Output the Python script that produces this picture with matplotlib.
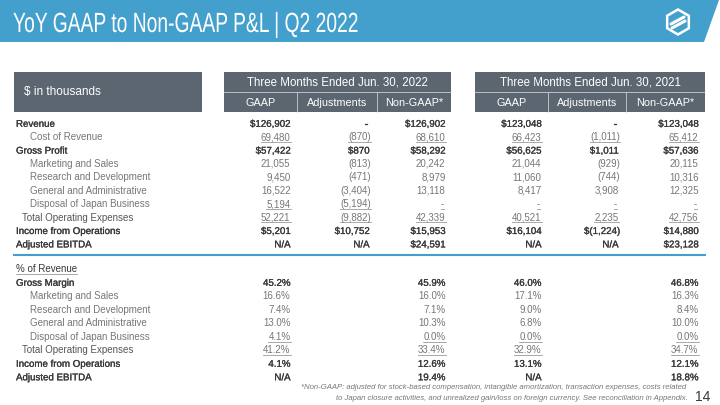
import matplotlib
matplotlib.use("Agg")
import matplotlib.pyplot as plt
from matplotlib import patheffects
from matplotlib.transforms import Affine2D
from matplotlib.patches import Rectangle, Polygon, RegularPolygon

# ---- table data ----
title = "YoY GAAP to Non-GAAP P&L | Q2 2022"
unit_label = "$ in thousands"
period_labels = ["Three Months Ended Jun. 30, 2022", "Three Months Ended Jun. 30, 2021"]
col_labels = ["GAAP", "Adjustments", "Non-GAAP*"]

rows = ["Revenue", "Cost of Revenue", "Gross Profit", "Marketing and Sales",
        "Research and Development", "General and Administrative",
        "Disposal of Japan Business", "Total Operating Expenses",
        "Income from Operations", "Adjusted EBITDA"]
row_indent = [0, 2, 0, 2, 2, 2, 2, 1, 0, 0]
row_bold = [True, False, True, False, False, False, False, False, True, True]
row_underline = [False, True, False, False, False, False, True, True, False, False]

gaap_2022 = ["$126,902", "69,480", "$57,422", "21,055", "9,450", "16,522", "5,194", "52,221", "$5,201", "N/A"]
adj_2022 = ["-", "(870)", "$870", "(813)", "(471)", "(3,404)", "(5,194)", "(9,882)", "$10,752", "N/A"]
non_2022 = ["$126,902", "68,610", "$58,292", "20,242", "8,979", "13,118", "-", "42,339", "$15,953", "$24,591"]
gaap_2021 = ["$123,048", "66,423", "$56,625", "21,044", "11,060", "8,417", "-", "40,521", "$16,104", "N/A"]
adj_2021 = ["-", "(1,011)", "$1,011", "(929)", "(744)", "3,908", "-", "2,235", "$(1,224)", "N/A"]
non_2021 = ["$123,048", "65,412", "$57,636", "20,115", "10,316", "12,325", "-", "42,756", "$14,880", "$23,128"]

pct_title = "% of Revenue"
pct_rows = ["Gross Margin", "Marketing and Sales", "Research and Development",
            "General and Administrative", "Disposal of Japan Business",
            "Total Operating Expenses", "Income from Operations", "Adjusted EBITDA"]
pct_indent = [0, 2, 2, 2, 2, 1, 0, 0]
pct_bold = [True, False, False, False, False, False, True, True]
pct_underline = [False, False, False, False, True, True, False, False]
pct_gaap_2022 = ["45.2%", "16.6%", "7.4%", "13.0%", "4.1%", "41.2%", "4.1%", "N/A"]
pct_non_2022 = ["45.9%", "16.0%", "7.1%", "10.3%", "0.0%", "33.4%", "12.6%", "19.4%"]
pct_gaap_2021 = ["46.0%", "17.1%", "9.0%", "6.8%", "0.0%", "32.9%", "13.1%", "N/A"]
pct_non_2021 = ["46.8%", "16.3%", "8.4%", "10.0%", "0.0%", "34.7%", "12.1%", "18.8%"]

footnote = ["*Non-GAAP: adjusted for stock-based compensation, intangible amortization, transaction expenses, costs related",
            "to Japan closure activities, and unrealized gain/loss on foreign currency. See reconciliation in Appendix."]
page_num = "14"

# ---- styling ----
BLUE = "#43a0cc"
SLATE = "#5b6670"
DARK = "#383838"
GREY = "#777777"
LINE_GREY = "#9a9a9a"
FONT = ["Liberation Sans", "DejaVu Sans"]
FS = 7


class Squeeze(patheffects.AbstractPathEffect):
    # squeezes glyphs horizontally (no narrow font installed)
    def __init__(self, sx=1.0):
        super().__init__()
        self.sx = sx

    def draw_path(self, renderer, gc, tpath, affine, rgbFace=None):
        renderer.draw_path(gc, tpath, Affine2D().scale(self.sx, 1.0) + affine, rgbFace)


fig = plt.figure(figsize=(7.2, 4.05), dpi=100)
ax = fig.add_axes([0, 0, 1, 1])
ax.set_xlim(0, 720)
ax.set_ylim(405, 0)
ax.axis("off")

# title banner
ax.add_patch(Polygon([(0, 0), (719, 0), (704, 42), (0, 42)], closed=True, color=BLUE, lw=0))
title_txt = ax.text(13, 32, title, color="white", fontsize=20, va="baseline", ha="left",
                    family=FONT)

# logo
ax.add_patch(RegularPolygon((678, 22), 6, radius=12.5, orientation=0, fill=False, ec="white", lw=1.8))
ax.plot([671, 684], [24, 17], color="white", lw=2.2, solid_capstyle="round")
ax.plot([672, 685], [28, 21], color="white", lw=2.2, solid_capstyle="round")

# header boxes
ax.add_patch(Rectangle((14, 72), 188, 40, color=SLATE, lw=0))
ax.text(24, 92.5, unit_label, color="white", fontsize=8.5, va="center", family=FONT)

groups = [(224, 451, [297, 377]), (475, 705, [548, 626])]
for (x0, x1, seps), plabel in zip(groups, period_labels):
    ax.add_patch(Rectangle((x0, 72), x1 - x0, 40, color=SLATE, lw=0))
    ax.plot([x0, x1], [92, 92], color="#c9ced2", lw=0.6)
    for s in seps:
        ax.plot([s, s], [92, 112], color="#c9ced2", lw=0.6)
    ax.text((x0 + x1) / 2, 85.5, plabel, color="white", fontsize=8.3, ha="center", va="baseline", family=FONT)
    edges = [x0] + seps + [x1]
    for i, cl in enumerate(col_labels):
        ax.text((edges[i] + edges[i + 1]) / 2, 105.5, cl, color="white", fontsize=7.8,
                ha="center", va="baseline", family=FONT)

col_right = [292, 371, 447, 543, 620, 700]
indent_x = [16, 22, 30]
BASE = 3.3
underline_texts = []
heavy = [patheffects.withStroke(linewidth=0.18, foreground=DARK)]


def put_value(x, y, s, bold, underline):
    color = DARK if bold else GREY
    if s == "-":
        x = x - 3
    elif not s.endswith(")"):
        x = x - 1.5
    t = ax.text(x, y + BASE, s, color=color, fontsize=FS, ha="right", va="baseline",
                family=FONT, path_effects=heavy if bold else None)
    if underline:
        underline_texts.append((t, y + BASE + 1.8))


def put_label(y, s, indent, bold):
    color = DARK if bold else GREY
    if indent == 1:
        color = "#555555"
    ax.text(indent_x[indent], y + BASE, s, color=color, fontsize=FS, ha="left", va="baseline",
            family=FONT, path_effects=heavy if bold else None)


# main P&L rows
y0, dy = 123.5, 13.4
cols = [gaap_2022, adj_2022, non_2022, gaap_2021, adj_2021, non_2021]
for i, lab in enumerate(rows):
    y = y0 + i * dy
    put_label(y, lab, row_indent[i], row_bold[i])
    for c, vals in enumerate(cols):
        put_value(col_right[c], y, vals[i], row_bold[i], row_underline[i])

# separator line
ax.plot([14, 705], [255, 255], color=BLUE, lw=1.5)

# % of revenue block
t = ax.text(16, 269 + BASE, pct_title, color=DARK, fontsize=FS, ha="left", va="baseline", family=FONT)
underline_texts.append((t, 269 + BASE + 1.8))
py0 = 282.5
pct_cols = [(0, pct_gaap_2022), (2, pct_non_2022), (3, pct_gaap_2021), (5, pct_non_2021)]
for i, lab in enumerate(pct_rows):
    y = py0 + i * 13.5
    put_label(y, lab, pct_indent[i], pct_bold[i])
    for c, vals in pct_cols:
        put_value(col_right[c], y, vals[i], pct_bold[i], pct_underline[i])

# footnote + page number
ax.text(686, 389, footnote[0], color=GREY, fontsize=5.6, style="italic", ha="right", va="baseline", family=FONT)
ax.text(688, 400, footnote[1], color=GREY, fontsize=5.6, style="italic", ha="right", va="baseline", family=FONT)
ax.text(710, 401, page_num, color=DARK, fontsize=10, ha="right", va="baseline", family=FONT)

# squeeze title to the reference width, then draw underlines from rendered extents
fig.canvas.draw()
renderer = fig.canvas.get_renderer()
tw = title_txt.get_window_extent(renderer).width
title_txt.set_path_effects([Squeeze(min(1.0, 345.0 / tw))])
inv = ax.transData.inverted()
for t, uy in underline_texts:
    bb = t.get_window_extent(renderer)
    xa = inv.transform((bb.x0, bb.y0))[0]
    xb = inv.transform((bb.x1, bb.y0))[0]
    ax.plot([xa, xb], [uy, uy], color=LINE_GREY, lw=0.6)

fig.savefig("out.png", dpi=100, facecolor="white")
